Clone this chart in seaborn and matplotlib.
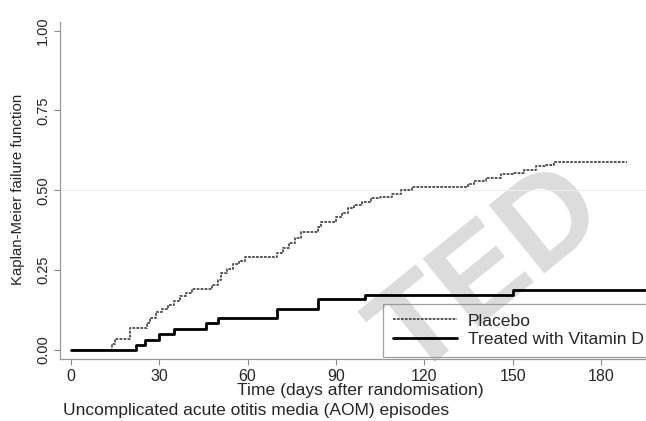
import numpy as np
import pandas as pd
import matplotlib
matplotlib.use("Agg")
import matplotlib.pyplot as plt
import seaborn as sns
from matplotlib.lines import Line2D

# ---- data ----
placebo_days = [0, 14, 15, 20, 26, 27, 29, 31, 33, 35, 37, 39, 41, 48, 50, 51, 53, 55, 57, 59,
                70, 72, 74, 76, 78, 84, 85, 90, 92, 94, 96, 99, 102, 105, 109, 112, 116,
                135, 137, 141, 146, 150, 154, 158, 161, 164, 189]
placebo_fail = [0.0, 0.018, 0.036, 0.068, 0.085, 0.10, 0.12, 0.13, 0.14, 0.155, 0.17, 0.18, 0.19,
                0.205, 0.22, 0.24, 0.255, 0.27, 0.28, 0.29,
                0.305, 0.32, 0.335, 0.35, 0.37, 0.385, 0.40, 0.415, 0.43, 0.445, 0.455, 0.465,
                0.475, 0.48, 0.49, 0.50, 0.51,
                0.52, 0.53, 0.54, 0.55, 0.555, 0.565, 0.575, 0.58, 0.59, 0.59]
treated_days = [0, 22, 25, 30, 35, 46, 50, 70, 84, 100, 150, 200]
treated_fail = [0.0, 0.016, 0.031, 0.05, 0.066, 0.084, 0.10, 0.13, 0.16, 0.172, 0.187, 0.187]
group_names = ["Placebo", "Treated with Vitamin D"]
xticks = [0, 30, 60, 90, 120, 150, 180]
yticks = [0.0, 0.25, 0.5, 0.75, 1.0]
ytick_labels = ["0.00", "0.25", "0.50", "0.75", "1.00"]

df = pd.concat([
    pd.DataFrame({"day": placebo_days, "fail": placebo_fail, "group": group_names[0]}),
    pd.DataFrame({"day": treated_days, "fail": treated_fail, "group": group_names[1]}),
])

sns.set_theme(style="white")
plt.rcParams["font.family"] = ["Liberation Sans", "DejaVu Sans"]

fig = plt.figure(figsize=(6.46, 4.21), dpi=100)
W, H = 646, 421
ax = fig.add_axes([60 / W, 1 - 359 / H, (646 - 60) / W, (359 - 22) / H])
ax.patch.set_alpha(0)

# watermark (behind everything)
fig.text(490 / W, 1 - 274 / H, "TED", fontsize=92, color="#dcdcdc", rotation=39,
         ha="center", va="center", fontweight="bold", zorder=-5)

ax.axhline(0.5, color="#eeeeee", lw=0.8, zorder=0.5)

sns.lineplot(data=df, x="day", y="fail", hue="group", style="group",
             palette={group_names[0]: "#4a4a4a", group_names[1]: "black"},
             dashes={group_names[0]: (1.5, 0.7), group_names[1]: ""},
             size="group", sizes={group_names[0]: 1.3, group_names[1]: 2.0},
             drawstyle="steps-post", estimator=None, ax=ax, legend=False, zorder=3)

ax.set_xlim(-3.7, 195.3)
ax.set_ylim(-0.028, 1.027)
ax.set_xticks(xticks)
ax.set_yticks(yticks)
ax.set_yticklabels(ytick_labels, rotation=90, va="center")
ax.tick_params(axis="both", which="both", direction="out", length=4, width=0.8,
               color="#888888", pad=3, left=True, bottom=True)
ax.tick_params(axis="x", labelsize=11.5)
ax.tick_params(axis="y", labelsize=10.5)
for s in ["top", "right"]:
    ax.spines[s].set_visible(False)
for s in ["left", "bottom"]:
    ax.spines[s].set_color("#999999")
    ax.spines[s].set_linewidth(0.9)

ax.set_xlabel("Time (days after randomisation)", fontsize=12.6)
ax.xaxis.set_label_coords((360 - 60) / 586, (359 - 383) / 337)
ax.set_ylabel("Kaplan-Meier failure function", fontsize=10.8)
ax.yaxis.set_label_coords((25 - 60) / 586, (359 - 189) / 337)

handles = [Line2D([], [], color="#4a4a4a", lw=1.3, dashes=(1.5, 0.7)),
           Line2D([], [], color="black", lw=2.0)]
leg = ax.legend(handles, group_names, loc="lower left", bbox_to_anchor=(0.551, 0.006),
                fontsize=12.6, frameon=True, fancybox=False, handlelength=3.7,
                borderpad=0.55, labelspacing=0.2, handletextpad=0.6, borderaxespad=0)
leg.get_frame().set_edgecolor("#888888")
leg.get_frame().set_facecolor("none")
leg.get_frame().set_linewidth(0.9)

fig.text(63 / W, 1 - 411 / H, "Uncomplicated acute otitis media (AOM) episodes",
         fontsize=12.5, ha="left", va="center")

fig.savefig("out.png", dpi=100)
